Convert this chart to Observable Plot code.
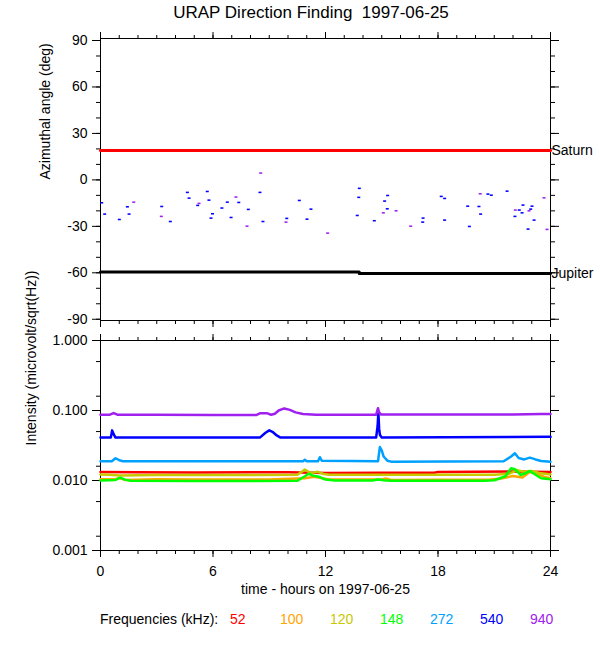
<!DOCTYPE html>
<html>
<head>
<meta charset="utf-8">
<script src="https://cdn.jsdelivr.net/npm/d3@7"></script>
<script src="https://cdn.jsdelivr.net/npm/@observablehq/plot@0.6"></script>
<style>
  html, body { margin: 0; padding: 0; background: white; }
  #wrap { position: relative; width: 600px; height: 650px; background: white; font-family: "Liberation Sans", Arial, Helvetica, sans-serif; color: black; }
  #title { position: absolute; left: 0; width: 622px; text-align: center; top: 3px; font-size: 17px; z-index: 5; }
  .abs { position: absolute; }
  #legend { position: absolute; top: 611px; left: 0; width: 600px; height: 20px; font-size: 14px; z-index: 5; }
  #legend span { position: absolute; top: 0; white-space: nowrap; }
</style>
</head>
<body>
<div id="wrap">
  <div id="top" class="abs" style="left:0;top:0"></div>
  <div id="bot" class="abs" style="left:0;top:330px"></div>
  <div id="title"></div>
  <div id="legend"></div>
</div>
<script>
// ---------------- DATA ----------------
const titleText = "URAP Direction Finding\u00a0\u00a01997-06-25";
const xTitle = "time - hours on 1997-06-25";
const xMajorTicks = [0, 6, 12, 18, 24];
const xMinorTicks = d3.range(0, 25, 1);
const angleMajorTicks = [-90, -60, -30, 0, 30, 60, 90];
const angleMinorTicks = d3.range(-90, 91, 10);
const intMajorTicks = [0.001, 0.01, 0.1, 1];
const intMinorTicks = [0.5, 0.16, 0.05, 0.016, 0.005, 0.0016];

// planet reference lines (hour, angle)
const saturnHour = [0, 24];
const saturnAngle = [19, 19];
const jupiterHour = [0, 13.8, 13.8, 24];
const jupiterAngle = [-59.5, -59.5, -60.5, -60.5];

// direction finding points: hour, angle, source frequency band ("540" blue, "940" purple)
const ptHour = [0.09,0.25,1.03,1.46,1.55,1.8,3.29,3.27,3.75,4.66,4.75,5.21,5.28,5.72,5.81,6.0,5.92,6.5,6.79,6.99,7.25,7.4,7.84,7.91,8.57,8.53,8.69,9.92,9.96,10.63,11.04,11.25,12.14,
  13.83,13.8,13.72,14.63,15.11,15.18,15.34,15.32,15.79,16.57,17.23,17.21,18.2,18.38,18.38,19.61,19.7,20.21,20.3,20.28,20.69,20.87,21.71,22.13,22.15,22.36,22.56,22.51,22.83,22.88,22.97,23.04,23.15,23.68,23.84];
const ptAngle = [-15.1,-22.4,-25.9,-17.7,-22.4,-14.7,-17.5,-23.9,-27.2,-8.4,-12.1,-16.8,-15.5,-7.8,-13.4,-22.2,-25,-18.5,-14.7,-24.6,-11.4,-14.9,-30.2,-19.4,4.1,-8.4,-27.2,-27.6,-25.2,-13.6,-25.7,-19.2,-34.7,
  -5.8,-11.6,-23.3,-26.7,-21.6,-14,-10.4,-19,-20.3,-30.2,-25,-27.6,-11,-12.3,-26.3,-17.3,-30.4,-17.5,-22.4,-9.3,-9.5,-10.2,-7.6,-23.9,-19.8,-19.8,-16.6,-21.6,-32.1,-20.3,-19.2,-17.3,-26.3,-11.9,-32.3];
const ptBand = ["540","540","540","540","540","940","540","940","540","540","540","540","940","540","540","540","540","540","540","540","940","540","940","540","940","540","540","940","540","540","540","540","940",
  "540","540","540","540","940","540","540","540","940","940","540","540","540","540","540","540","540","540","540","940","540","540","540","540","940","540","540","540","540","940","540","540","540","940","940"];

// intensity series (kHz) : hours and values (microvolt/sqrt(Hz))
const freqs = ["52", "100", "120", "148", "272", "540", "940"];
const h52 = [0, 2, 5, 8, 10, 12, 15, 17.8, 18, 22, 24];
const v52 = [0.0132, 0.0131, 0.0130, 0.0131, 0.0131, 0.0128, 0.0129, 0.0129, 0.0132, 0.0134, 0.0132];
const h100 = [0, 0.8, 1.0, 1.3, 3, 5, 9, 10.9, 11.4, 12.2, 15, 15.2, 15.5, 20.8, 21.3, 22.0, 22.5, 22.9, 23.3, 23.7, 24];
const v100 = [0.0104, 0.0104, 0.0108, 0.0102, 0.0104, 0.0103, 0.0103, 0.0108, 0.0113, 0.0103, 0.0103, 0.0107, 0.0102, 0.0103, 0.0106, 0.0116, 0.0110, 0.0132, 0.0125, 0.0112, 0.0108];
const h120 = [0, 0.5, 1, 3, 8, 10.5, 10.9, 11.2, 11.6, 11.9, 12.2, 14, 18, 21, 21.8, 22.2, 22.6, 23.0, 23.4, 24];
const v120 = [0.0122, 0.0121, 0.0118, 0.0120, 0.0120, 0.0121, 0.0143, 0.0128, 0.0133, 0.0124, 0.0121, 0.0121, 0.0121, 0.0121, 0.0125, 0.0140, 0.0133, 0.0137, 0.0128, 0.0122];
const h148 = [0, 0.8, 1.05, 1.3, 1.6, 5, 8, 10.5, 10.9, 11.1, 11.3, 11.7, 12.0, 12.5, 14.5, 14.8, 15.1, 15.5, 20.5, 21.0, 21.6, 21.9, 22.1, 22.4, 22.7, 22.9, 23.2, 23.5, 24];
const v148 = [0.0100, 0.0102, 0.0110, 0.0103, 0.0099, 0.0098, 0.0098, 0.0099, 0.0115, 0.0125, 0.0118, 0.0112, 0.0103, 0.0100, 0.0100, 0.0103, 0.0101, 0.0099, 0.0099, 0.0101, 0.0115, 0.0150, 0.0145, 0.0120, 0.0128, 0.0137, 0.0121, 0.0108, 0.0104];
const h272 = [0, 0.6, 0.8, 1.0, 1.2, 10.8, 10.9, 11.0, 11.6, 11.7, 11.8, 14.8, 14.9, 15.0, 15.1, 15.3, 15.5, 21.5, 21.9, 22.1, 22.3, 22.6, 22.9, 23.2, 23.5, 24];
const v272 = [0.0188, 0.0188, 0.0208, 0.0195, 0.0188, 0.0188, 0.0198, 0.0188, 0.0188, 0.0215, 0.0192, 0.0188, 0.0300, 0.0270, 0.0220, 0.0192, 0.0186, 0.0188, 0.0220, 0.0245, 0.0210, 0.0200, 0.0212, 0.0200, 0.0190, 0.0185];
const h540 = [0, 0.55, 0.62, 0.7, 0.8, 8.5, 8.8, 9.0, 9.2, 9.4, 9.6, 14.7, 14.78, 14.82, 14.86, 14.9, 15.0, 24];
const v540 = [0.041, 0.041, 0.052, 0.046, 0.041, 0.041, 0.048, 0.052, 0.049, 0.044, 0.041, 0.041, 0.060, 0.095, 0.055, 0.045, 0.041, 0.042];
const h940 = [0, 0.5, 0.7, 0.9, 3, 6, 8.3, 8.5, 8.9, 9.1, 9.3, 9.5, 9.8, 10.1, 10.4, 10.8, 11.5, 14.7, 14.8, 14.85, 14.95, 18, 22, 23.5, 24];
const v940 = [0.087, 0.087, 0.092, 0.087, 0.087, 0.086, 0.086, 0.091, 0.091, 0.087, 0.090, 0.100, 0.107, 0.102, 0.094, 0.089, 0.087, 0.087, 0.108, 0.095, 0.088, 0.088, 0.088, 0.089, 0.089];

// ---------------- STYLE ----------------
const freqColors = ["#ff0000", "#ffa500", "#c8c800", "#00ff00", "#00a0ff", "#0000ff", "#a020f0"];
const bandColor = {"540": "#0000ff", "940": "#a020f0"};
const font = "'Liberation Sans', Arial, Helvetica, sans-serif";
const empty = () => "";

document.getElementById("title").textContent = titleText;

function frameAxes(yMajor, yMinor, yFmt, showX) {
  return [
    Plot.frame({stroke: "black", strokeWidth: 1}),
    Plot.axisY({ticks: yMajor, anchor: "left", tickSize: 8, tickPadding: 5, tickFormat: yFmt, label: null, fontSize: 14}),
    Plot.axisY({ticks: yMinor, anchor: "left", tickSize: 4, tickFormat: empty, label: null}),
    Plot.axisY({ticks: yMajor, anchor: "right", tickSize: 8, tickFormat: empty, label: null}),
    Plot.axisY({ticks: yMinor, anchor: "right", tickSize: 4, tickFormat: empty, label: null}),
    Plot.axisX({ticks: xMajorTicks, anchor: "top", tickSize: 7, tickFormat: empty, label: null}),
    Plot.axisX({ticks: xMinorTicks, anchor: "top", tickSize: 4, tickFormat: empty, label: null}),
    Plot.axisX({ticks: xMajorTicks, anchor: "bottom", tickSize: 7, tickPadding: 9, tickFormat: showX ? (d => d) : empty, label: null, fontSize: 14}),
    Plot.axisX({ticks: xMinorTicks, anchor: "bottom", tickSize: 4, tickFormat: empty, label: null})
  ];
}

// ---------------- TOP PANEL ----------------
const ptIdx = d3.range(ptHour.length);
const topPlot = Plot.plot({
  width: 600, height: 330,
  marginTop: 38, marginBottom: 10, marginLeft: 100, marginRight: 50,
  style: {fontFamily: font, fontSize: "14px", background: "transparent", overflow: "visible", color: "black"},
  x: {domain: [0, 24]},
  y: {domain: [-90.8, 91.3]},
  marks: [
    ...frameAxes(angleMajorTicks, angleMinorTicks, d => d, false),
    Plot.line(d3.range(saturnHour.length), {x: i => saturnHour[i], y: i => saturnAngle[i], stroke: "#ff0000", strokeWidth: 3}),
    Plot.line(d3.range(jupiterHour.length), {x: i => jupiterHour[i], y: i => jupiterAngle[i], stroke: "black", strokeWidth: 3}),
    Plot.rect(ptIdx, {x1: i => ptHour[i] - 0.08, x2: i => ptHour[i] + 0.08, y1: i => ptAngle[i] - 0.5, y2: i => ptAngle[i] + 0.5, fill: i => bandColor[ptBand[i]]}),
    Plot.text(["Saturn"], {x: 24, y: saturnAngle[1], dx: 1, textAnchor: "start", fontSize: 14, fill: "black"}),
    Plot.text(["Jupiter"], {x: 24, y: jupiterAngle[3], dx: 1, textAnchor: "start", fontSize: 14, fill: "black"}),
    Plot.text(["Azimuthal angle (deg)"], {frameAnchor: "left", dx: -55, rotate: -90, fontSize: 14, fill: "black"})
  ]
});
document.getElementById("top").appendChild(topPlot);

// ---------------- BOTTOM PANEL ----------------
const series = [[h52, v52], [h100, v100], [h120, v120], [h148, v148], [h272, v272], [h540, v540], [h940, v940]];
const botPlot = Plot.plot({
  width: 600, height: 270,
  marginTop: 10, marginBottom: 50, marginLeft: 100, marginRight: 50,
  style: {fontFamily: font, fontSize: "14px", background: "transparent", overflow: "visible", color: "black"},
  x: {domain: [0, 24]},
  y: {type: "log", domain: [0.001, 1]},
  marks: [
    ...frameAxes(intMajorTicks, intMinorTicks, d3.format(".3f"), true),
    ...series.map(([h, v], k) => Plot.line(d3.range(h.length), {x: i => h[i], y: i => v[i], stroke: freqColors[k], strokeWidth: 2.5})),
    Plot.text(["Intensity (microvolt/sqrt(Hz))"], {frameAnchor: "left", dx: -69, rotate: -90, fontSize: 14, fill: "black"}),
    Plot.text([xTitle], {frameAnchor: "bottom", dy: 43, fontSize: 14, fill: "black"})
  ]
});
document.getElementById("bot").appendChild(botPlot);

// ---------------- LEGEND ----------------
const legend = document.getElementById("legend");
const lab = document.createElement("span");
lab.textContent = "Frequencies (kHz):";
lab.style.left = "100px";
legend.appendChild(lab);
freqs.forEach((f, k) => {
  const s = document.createElement("span");
  s.textContent = f;
  s.style.left = (230 + 50 * k) + "px";
  s.style.color = freqColors[k];
  legend.appendChild(s);
});
</script>
</body>
</html>
